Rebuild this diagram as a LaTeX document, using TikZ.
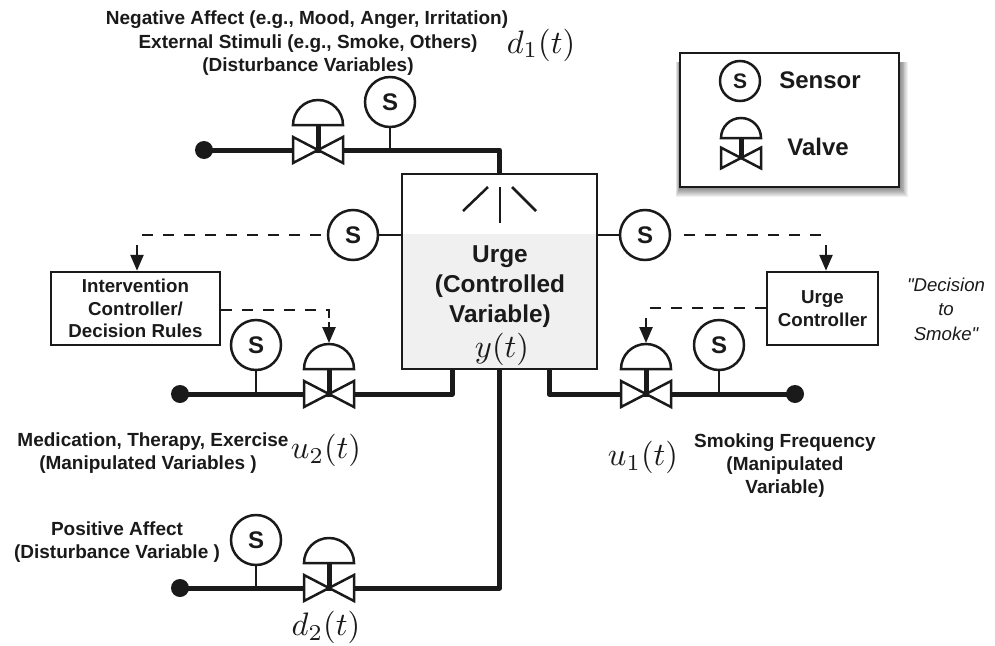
\documentclass[tikz,border=0pt]{standalone}
\usepackage{fontspec}
\setmainfont{Liberation Sans}
\newfontfamily\quotefont{Liberation Sans}
\usetikzlibrary{arrows.meta}
\definecolor{ink}{HTML}{1A1A1A}
\definecolor{tankgrey}{HTML}{F0F0F0}
\tikzset{
  pipe/.style={draw=ink,line width=5pt,line join=round},
  thin line/.style={draw=ink,line width=2.5pt},
  signal/.style={draw=ink,line width=2.5pt,dash pattern=on 11pt off 10pt},
  sigarrow/.style={draw=ink,line width=2.5pt,-{Triangle[width=13pt,length=16pt]}},
  sensor/.style={circle,draw=ink,line width=2.5pt,fill=white,minimum size=50pt,inner sep=0pt,text=ink,font=\fontsize{24}{24}\selectfont\bfseries},
  source/.style={circle,fill=ink,minimum size=18pt,inner sep=0pt},
  ctrl/.style={rectangle,draw=ink,line width=2.5pt,fill=white,align=center,text=ink,inner sep=0pt,font=\fontsize{18.7}{22.5}\selectfont\bfseries},
  lab/.style={align=center,text=ink,inner sep=0pt,font=\fontsize{19}{23}\selectfont\bfseries},
  quote/.style={align=center,text=ink,inner sep=0pt,font=\quotefont\fontsize{18.6}{24.5}\selectfont\itshape},
  mathlab/.style={text=ink,inner sep=0pt,scale=3.25},
  valve/.pic={
    \draw[ink,line width=5pt] (0,0) -- (0,-25);
    \draw[ink,line width=2.5pt,fill=white,line join=miter] (-25,-25) arc (180:360:25) -- cycle;
    \draw[ink,line width=2.5pt,fill=white,line join=miter] (0,0) -- (-25,-13) -- (-25,13) -- cycle;
    \draw[ink,line width=2.5pt,fill=white,line join=miter] (0,0) -- (25,-13) -- (25,13) -- cycle;
    \coordinate (-top) at (0,-51);
  }
}
\begin{document}
\begin{tikzpicture}[x=1pt,y=-1pt]
\useasboundingbox (0,0) rectangle (995,645);

% tank
\fill[tankgrey] (402,234) rectangle (597,369);
\node[draw=ink,line width=2.5pt,minimum width=195pt,minimum height=195pt,inner sep=0pt] (tank) at (499.5,271.5) {};
\coordinate (sprayL0) at (488,187); \coordinate (sprayL1) at (463,211);
\coordinate (sprayC0) at (500,187); \coordinate (sprayC1) at (500,223);
\coordinate (sprayR0) at (512,187); \coordinate (sprayR1) at (536,211);
\draw[thin line] (sprayL0) -- (sprayL1);
\draw[thin line] (sprayC0) -- (sprayC1);
\draw[thin line] (sprayR0) -- (sprayR1);
\node[align=center,text=ink,inner sep=0pt,font=\fontsize{24.4}{30}\selectfont\bfseries] (urge) at (500,287) {Urge\\(Controlled\\Variable)};
\node[mathlab] (yt) at (502,349) {$y(t)$};

% sources
\node[source] (d1) at (204,150) {};
\node[source] (d2) at (180,394) {};
\node[source] (d3) at (180,588) {};
\node[source] (d4) at (795,394) {};

% valve centres
\coordinate (v1c) at (318,150);
\coordinate (v2c) at (329,394);
\coordinate (v3c) at (329,588);
\coordinate (v4c) at (646,394);
\coordinate (tankL) at (452,369);
\coordinate (tankR) at (549,369);

% pipes
\draw[pipe] (d1.center) -- (v1c) -| (tank.north);
\draw[pipe] (d2.center) -- (v2c) -| (tankL);
\draw[pipe] (d3.center) -- (v3c) -| (tank.south);
\draw[pipe] (d4.center) -- (v4c) -| (tankR);

% valves
\pic (v1) at (v1c) {valve};
\pic (v2) at (v2c) {valve};
\pic (v3) at (v3c) {valve};
\pic (v4) at (v4c) {valve};

% sensors
\node[sensor] (s1) at (390,102) {S};
\node[sensor] (s2) at (256,345) {S};
\node[sensor] (s3) at (256,540) {S};
\node[sensor] (s4) at (719,345) {S};
\node[sensor] (sL) at (353,235) {S};
\node[sensor] (sR) at (645,235) {S};
\draw[thin line] (s1.south) -- (s1.south |- d1);
\draw[thin line] (s2.south) -- (s2.south |- d2);
\draw[thin line] (s3.south) -- (s3.south |- d3);
\draw[thin line] (s4.south) -- (s4.south |- d4);
\draw[thin line] (sL.east) -- (sL.east -| tank.west);
\draw[thin line] (sR.west) -- (sR.west -| tank.east);

% controllers
\node[ctrl,minimum width=169pt,minimum height=73pt] (ic) at (135.5,308.5) {Intervention\\Controller/\\Decision Rules};
\node[ctrl,minimum width=111pt,minimum height=73pt] (uc) at (822.5,308.5) {Urge\\Controller};

% signals
\coordinate (c1) at (138,235);
\coordinate (a1) at (137,245);
\draw[signal,shorten <=6pt] (sL.west) -- (c1);
\draw[sigarrow] (a1) -- (a1 |- ic.north);
\coordinate (c2) at (824,235);
\coordinate (a2) at (826,245);
\draw[signal,shorten <=13pt] (sR.east) -- (c2);
\draw[sigarrow] (a2) -- (a2 |- uc.north);
\coordinate (c3) at (329,310);
\coordinate (c3b) at (329,322);
\coordinate (ic3) at (ic.east |- c3);
\draw[signal] (ic3) -- (c3) -- (c3b);
\draw[sigarrow] (c3b) -- (v2-top);
\coordinate (c4) at (646,308);
\coordinate (a4) at (646,318);
\coordinate (uc4) at (uc.west |- c4);
\draw[signal] (uc4) -- (c4);
\draw[sigarrow] (a4) -- (v4-top);

% labels
\node[lab] (t1) at (307,20) {Negative Affect (e.g., Mood, Anger, Irritation)};
\node[lab] (t2) at (308,55) {External Stimuli (e.g., Smoke, Others)\\(Disturbance Variables)};
\node[lab] (t3) at (153,442) {Medication, Therapy, Exercise};
\node[lab] (t4) at (148,465) {(Manipulated Variables )};
\node[lab] (t5) at (117,542.5) {Positive Affect\\(Disturbance Variable )};
\node[lab] (t6) at (785,466) {Smoking Frequency\\(Manipulated\\Variable)};
\node[quote] (t7) at (946,309) {"Decision\\to\\Smoke"};
\node[mathlab] (m1) at (541,45) {$d_1(t)$};
\node[mathlab] (m2) at (326,450) {$u_2(t)$};
\node[mathlab] (m3) at (643,457) {$u_1(t)$};
\node[mathlab] (m4) at (326,627) {$d_2(t)$};

% legend
\foreach \i in {10,9,...,1}
  \fill[black,opacity=.06] (680-.4*\i,62) rectangle (899+.9*\i,187+\i);
\node[draw=ink,line width=1.8pt,fill=white,minimum width=219pt,minimum height=134pt,inner sep=0pt] (legend) at (789.5,120) {};
\node[sensor,minimum size=40pt,font=\fontsize{21}{21}\selectfont\bfseries] (ls) at (740,81) {S};
\node[text=ink,inner sep=0pt,font=\fontsize{24}{24}\selectfont\bfseries] (lst) at (820,80) {Sensor};
\pic[scale=.8] (lv) at (741,158) {valve};
\node[text=ink,inner sep=0pt,font=\fontsize{24}{24}\selectfont\bfseries] (lvt) at (818,147) {Valve};
\end{tikzpicture}
\end{document}
